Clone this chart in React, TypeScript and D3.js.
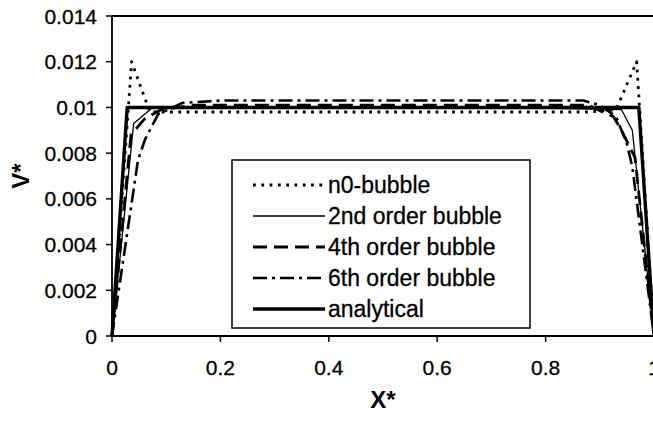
import React from "react";
import * as d3 from "d3";

// Velocity profiles V* across the channel X*
const n0X = [0, 0.03, 0.036, 0.07, 0.12, 0.3, 0.5, 0.7, 0.88, 0.93, 0.968, 1];
const n0V = [0, 0.0099, 0.012, 0.0098, 0.0098, 0.0098, 0.0098, 0.0098, 0.0098, 0.0099, 0.012, 0];

const o2X = [0, 0.04, 0.075, 0.3, 0.5, 0.7, 0.94, 0.96, 1];
const o2V = [0, 0.0093, 0.01, 0.01, 0.01, 0.01, 0.0099, 0.009, 0];

const o4X = [0, 0.035, 0.06, 0.09, 0.15, 0.5, 0.88, 0.905, 0.925, 0.94, 0.965, 1];
const o4V = [0, 0.0088, 0.0095, 0.0099, 0.0101, 0.0101, 0.0101, 0.0098, 0.0096, 0.009, 0.0078, 0];

const o6X = [0, 0.048, 0.061, 0.085, 0.13, 0.2, 0.5, 0.87, 0.9, 0.93, 0.95, 0.96, 1];
const o6V = [0, 0.0077, 0.0086, 0.0097, 0.0102, 0.0103, 0.0103, 0.0103, 0.0101, 0.0096, 0.0084, 0.0074, 0];

const anX = [0, 0.028, 0.972, 1];
const anV = [0, 0.01, 0.01, 0];

const xTicks = [0, 0.2, 0.4, 0.6, 0.8, 1];
const yTicks = [0, 0.002, 0.004, 0.006, 0.008, 0.01, 0.012, 0.014];
const legendLabels = ["n0-bubble", "2nd order bubble", "4th order bubble", "6th order bubble", "analytical"];

const W = 653;
const H = 421;
const FONT = "'Liberation Sans', Arial, Helvetica, sans-serif";

const x = d3.scaleLinear().domain([0, 1]).range([112, 654]);
const y = d3.scaleLinear().domain([0, 0.014]).range([336, 16]);

const line = d3
  .line<[number, number]>()
  .x((d) => x(d[0]))
  .y((d) => y(d[1]));

const zip = (xs: number[], vs: number[]) => xs.map((v, i) => [v, vs[i]] as [number, number]);

const series = [
  { label: legendLabels[0], pts: zip(n0X, n0V), width: 2.8, dash: "2.8 5.5" },
  { label: legendLabels[1], pts: zip(o2X, o2V), width: 1.3, dash: "" },
  { label: legendLabels[2], pts: zip(o4X, o4V), width: 2.8, dash: "14 7" },
  { label: legendLabels[3], pts: zip(o6X, o6V), width: 2.6, dash: "14 5 3 5" },
  { label: legendLabels[4], pts: zip(anX, anV), width: 3.4, dash: "" },
];

export default function App() {
  const fmt = (v: number) => (v === 0 ? "0" : String(+v.toFixed(3)));
  const legX = 232;
  const legY = 160;
  const legW = 298;
  const legH = 168;
  const rowY = (i: number) => 185 + i * 31;

  return (
    <svg
      width={W}
      height={H}
      style={{ position: "absolute", left: 0, top: 0, background: "#fff" }}
    >
      <rect x={0} y={0} width={W} height={H} fill="#fff" />

      {/* frame: top border, left and bottom axes */}
      <line x1={112} x2={W} y1={y(0.014)} y2={y(0.014)} stroke="#000" strokeWidth={2} />
      <line x1={112} x2={112} y1={y(0.014)} y2={y(0)} stroke="#000" strokeWidth={1.8} />
      <line x1={112} x2={W} y1={y(0)} y2={y(0)} stroke="#000" strokeWidth={2} />

      {/* y ticks */}
      {yTicks.map((t) => (
        <g key={"y" + t}>
          <line x1={106} x2={112} y1={y(t)} y2={y(t)} stroke="#000" strokeWidth={1.5} />
          <text
            x={97}
            y={y(t)}
            dy="0.36em"
            textAnchor="end"
            fontFamily={FONT}
            fontSize={21}
            fill="#000"
            stroke="#000"
            strokeWidth={0.3}
          >
            {fmt(t)}
          </text>
        </g>
      ))}

      {/* x ticks */}
      {xTicks.map((t) => (
        <g key={"x" + t}>
          <line x1={x(t)} x2={x(t)} y1={y(0)} y2={y(0) + 6} stroke="#000" strokeWidth={1.5} />
          <text
            x={x(t)}
            y={375}
            textAnchor="middle"
            fontFamily={FONT}
            fontSize={21}
            fill="#000"
            stroke="#000"
            strokeWidth={0.3}
          >
            {fmt(t)}
          </text>
        </g>
      ))}

      {/* axis titles */}
      <text
        x={383}
        y={408}
        textAnchor="middle"
        fontFamily={FONT}
        fontSize={24}
        fontWeight="bold"
        fill="#000"
      >
        X*
      </text>
      <text
        transform={`translate(29,${176}) rotate(-90)`}
        textAnchor="middle"
        fontFamily={FONT}
        fontSize={24}
        fontWeight="bold"
        fill="#000"
      >
        V*
      </text>

      <defs>
        <clipPath id="plotClip">
          <rect x={110} y={0} width={W} height={y(0) + 1} />
        </clipPath>
      </defs>

      {/* curves */}
      <g clipPath="url(#plotClip)">
        {series.map((s) => (
          <path
            key={s.label}
            d={line(s.pts) || ""}
            fill="none"
            stroke="#000"
            strokeWidth={s.width}
            strokeDasharray={s.dash || undefined}
            strokeLinejoin="round"
          />
        ))}
      </g>

      {/* legend */}
      <rect
        x={legX}
        y={legY}
        width={legW}
        height={legH}
        fill="#fff"
        stroke="#000"
        strokeWidth={1.5}
      />
      {series.map((s, i) => (
        <g key={"leg" + s.label}>
          <line
            x1={253}
            x2={325}
            y1={rowY(i)}
            y2={rowY(i)}
            stroke="#000"
            strokeWidth={s.width}
            strokeDasharray={s.dash || undefined}
          />
          <text
            x={328}
            y={rowY(i)}
            dy="0.36em"
            fontFamily={FONT}
            fontSize={23}
            fill="#000"
            stroke="#000"
            strokeWidth={0.3}
          >
            {s.label}
          </text>
        </g>
      ))}
    </svg>
  );
}
